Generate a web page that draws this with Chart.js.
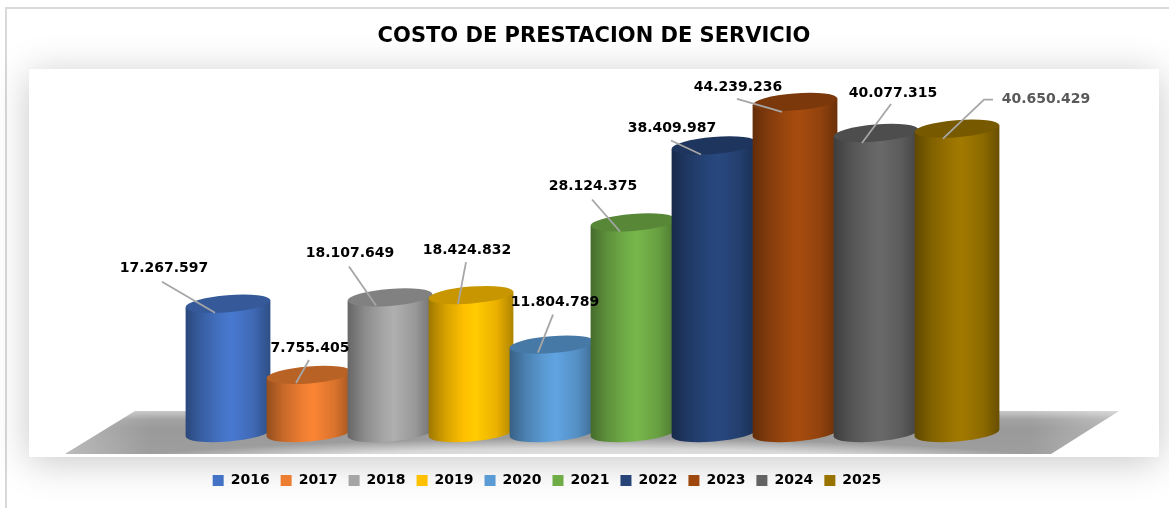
<!DOCTYPE html>
<html>
<head>
<meta charset="utf-8">
<style>html,body{margin:0;padding:0;background:#fff}canvas{display:block}</style>
<script src="https://cdn.jsdelivr.net/npm/chart.js@4"></script>
</head>
<body>
<canvas id="c" width="1169" height="508"></canvas>
<script>
const chartTitle = 'COSTO DE PRESTACION DE SERVICIO';
const categories = ['2016','2017','2018','2019','2020','2021','2022','2023','2024','2025'];
const values = [17267597, 7755405, 18107649, 18424832, 11804789, 28124375, 38409987, 44239236, 40077315, 40650429];
const colors = ['#4472C4','#ED7D31','#A5A5A5','#FFC000','#5B9BD5','#70AD47','#264478','#9E480E','#636363','#997300'];
const labelColors = ['#000','#000','#000','#000','#000','#000','#000','#000','#000','#595959'];

// callout geometry relative to the top of each bar: text centre, then leader points
const callouts = [
  [[-64,-35],[-66,-22],[-13,9]],
  [[1,-27],[0,-15],[-13,8]],
  [[-40,-44],[-41,-31],[-14,8]],
  [[-4,-45],[-5,-33],[-13,9]],
  [[3,-42],[1,-30],[-14,8]],
  [[-40,-36],[-41,-23],[-13,9]],
  [[-42,-17],[-43,-5],[-13,9]],
  [[-57,-14],[-58,-3],[-13,10]],
  [[17,-40],[15,-29],[-14,10]],
  [[89,-29],[36,-29],[27,-29],[-14,10]]
];

function shade(hex, f){
  const n = parseInt(hex.slice(1),16);
  const ch = s => Math.max(0,Math.min(255,Math.round(((n>>s)&255)*f)));
  return `rgb(${ch(16)},${ch(8)},${ch(0)})`;
}
const TILT = -0.08, RY = 8.5;

const backdrop = {
  id:'backdrop',
  beforeDraw(chart){
    const c = chart.ctx;
    c.save();
    c.fillStyle='#fff'; c.fillRect(0,0,chart.width,chart.height);
    c.strokeStyle='#d9d9d9'; c.lineWidth=2;
    c.beginPath(); c.moveTo(6,chart.height); c.lineTo(6,8); c.lineTo(chart.width,8); c.stroke();
    c.shadowColor='rgba(0,0,0,0.22)'; c.shadowBlur=36; c.shadowOffsetY=5;
    c.fillStyle='#fff'; c.fillRect(29,69,1130,388);
    c.shadowColor='transparent'; c.shadowBlur=0; c.shadowOffsetY=0;
    // floor
    c.beginPath(); c.moveTo(135,411); c.lineTo(1119,411); c.lineTo(1051,454); c.lineTo(65,454); c.closePath();
    c.clip();
    const g=c.createLinearGradient(0,411,0,454);
    g.addColorStop(0,'#cacaca'); g.addColorStop(0.2,'#a2a2a2'); g.addColorStop(0.4,'#9a9a9a'); g.addColorStop(1,'#9e9e9e');
    c.fillStyle=g; c.fillRect(60,405,1065,55);
    const l=c.createLinearGradient(65,0,150,0);
    l.addColorStop(0,'rgba(255,255,255,0.3)'); l.addColorStop(1,'rgba(255,255,255,0)');
    c.fillStyle=l; c.fillRect(60,405,90,55);
    const r=c.createLinearGradient(1119,0,1030,0);
    r.addColorStop(0,'rgba(255,255,255,0.3)'); r.addColorStop(1,'rgba(255,255,255,0)');
    c.fillStyle=r; c.fillRect(1030,405,95,55);
    c.translate(590,472); c.scale(1,0.065);
    const h=c.createRadialGradient(0,0,0,0,0,520);
    h.addColorStop(0,'rgba(255,255,255,0.85)'); h.addColorStop(0.7,'rgba(255,255,255,0.6)'); h.addColorStop(1,'rgba(255,255,255,0)');
    c.fillStyle=h; c.fillRect(-540,-540,1080,1080);
    c.restore();
  }
};

const placement = {
  id:'placement',
  afterLayout(chart){
    const place=(box,dx,cy)=>{
      const d=cy-(box.top+box.bottom)/2;
      box.left+=dx; box.right+=dx; box.top+=d; box.bottom+=d;
    };
    place(chart.titleBlock, 594-(chart.titleBlock.left+chart.titleBlock.right)/2, 37);
    place(chart.legend, 547-(chart.legend.left+chart.legend.right)/2, 480);
  }
};

const cylinders = {
  id:'cylinders',
  beforeDatasetDraw(chart,args){
    const c = chart.ctx;
    args.meta.data.forEach((el,i)=>{
      const p = el.getProps(['x','y','base','width'],true);
      const rx = p.width/2, dx = rx*Math.cos(TILT), dy = rx*Math.sin(TILT);
      const col = colors[i];
      const g = c.createLinearGradient(p.x-rx,0,p.x+rx,0);
      g.addColorStop(0,shade(col,0.62));
      g.addColorStop(0.2,shade(col,0.84));
      g.addColorStop(0.42,shade(col,1.0));
      g.addColorStop(0.55,shade(col,1.06));
      g.addColorStop(0.8,shade(col,0.92));
      g.addColorStop(1,shade(col,0.68));
      c.save();
      c.fillStyle=g;
      c.beginPath();
      c.moveTo(p.x-dx,p.y-dy);
      c.lineTo(p.x-dx,p.base-dy);
      c.ellipse(p.x,p.base,rx,RY,TILT,Math.PI,0,true);
      c.lineTo(p.x+dx,p.y+dy);
      c.closePath();
      c.fill();
      c.fillStyle=shade(col,0.78);
      c.beginPath();
      c.ellipse(p.x,p.y,rx,RY,TILT,0,Math.PI*2);
      c.fill();
      c.restore();
    });
    return false;
  }
};

const valueLabels = {
  id:'valueLabels',
  afterDatasetsDraw(chart){
    const c = chart.ctx, meta = chart.getDatasetMeta(0);
    c.save();
    meta.data.forEach((el,i)=>{
      const spec = callouts[i], pts = spec.slice(1);
      c.strokeStyle='#a6a6a6'; c.lineWidth=1.8;
      c.beginPath();
      pts.forEach((q,k)=>{ k ? c.lineTo(el.x+q[0],el.y+q[1]) : c.moveTo(el.x+q[0],el.y+q[1]); });
      c.stroke();
    });
    c.font='bold 14px "DejaVu Sans"';
    c.textAlign='center'; c.textBaseline='middle';
    meta.data.forEach((el,i)=>{
      c.fillStyle=labelColors[i];
      c.fillText(values[i].toLocaleString('de-DE'),el.x+callouts[i][0][0],el.y+callouts[i][0][1]);
    });
    c.restore();
  }
};

new Chart(document.getElementById('c'),{
  type:'bar',
  data:{labels:categories,datasets:[{label:'Costo',data:values,backgroundColor:colors,barPercentage:1.05,categoryPercentage:1}]},
  plugins:[backdrop,placement,cylinders,valueLabels],
  options:{
    responsive:false,
    animation:false,
    layout:{padding:{left:187.5,right:171.5,top:47,bottom:40}},
    scales:{
      x:{display:false},
      y:{display:false,min:0,max:48200000}
    },
    plugins:{
      tooltip:{enabled:false},
      title:{display:true,text:chartTitle,color:'#000',padding:0,font:{family:'"DejaVu Sans"',size:21,weight:'bold'}},
      legend:{
        position:'bottom',
        labels:{
          color:'#000',boxWidth:11,boxHeight:11,padding:11,
          font:{family:'"DejaVu Sans"',size:14,weight:'bold'},
          generateLabels(){
            return categories.map((t,i)=>({text:t,fillStyle:colors[i],strokeStyle:colors[i],lineWidth:0,hidden:false,index:i}));
          }
        }
      }
    }
  }
});
</script>
</body>
</html>
